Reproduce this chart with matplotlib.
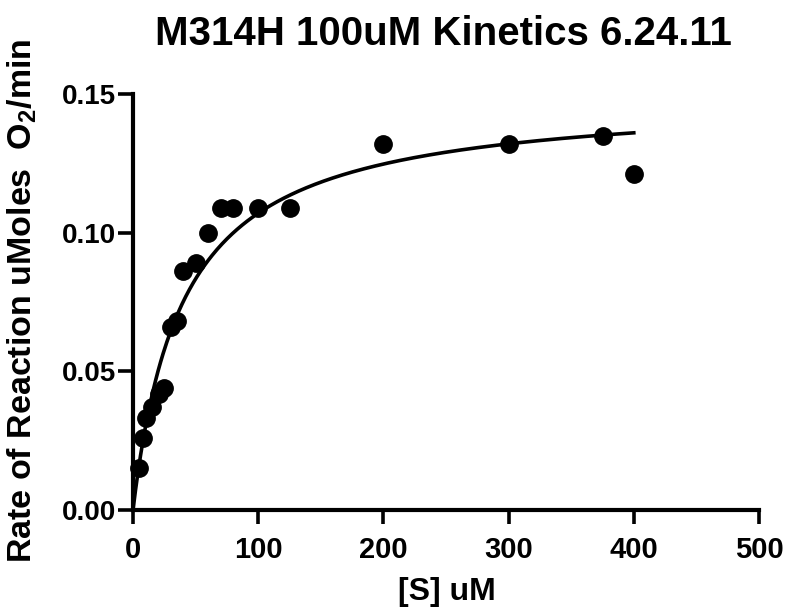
import numpy as np
import matplotlib
matplotlib.use("Agg")
import matplotlib.pyplot as plt

# Data
substrate_uM = [5, 8, 10, 15, 21, 25, 30, 35, 40, 50, 60, 70, 80, 100, 125, 200, 300, 375, 400]
rate = [0.015, 0.026, 0.033, 0.037, 0.042, 0.044, 0.066, 0.068, 0.086, 0.089, 0.100, 0.109,
        0.109, 0.109, 0.109, 0.132, 0.132, 0.135, 0.121]
# Michaelis-Menten fit parameters
vmax = 0.1495
km = 39.7
fit_range = [0, 400]

x_ticks = [0, 100, 200, 300, 400, 500]
y_ticks = [0.00, 0.05, 0.10, 0.15]

plt.rcParams['font.family'] = ['Liberation Sans', 'DejaVu Sans']
plt.rcParams['font.weight'] = 'bold'
plt.rcParams['mathtext.default'] = 'regular'

W, H = 788, 609
fig = plt.figure(figsize=(W / 100, H / 100), dpi=100)
ax = fig.add_axes([133 / W, 1 - 510 / H, (759 - 133) / W, (510 - 94) / H])

xs = np.linspace(fit_range[0], fit_range[1], 400)
ax.plot(xs, vmax * xs / (km + xs), color='black', lw=2.6, zorder=2)
ax.plot(substrate_uM, rate, 'o', color='black', ms=12.5, zorder=3, clip_on=False)

ax.set_xlim(0, 500)
ax.set_ylim(0, 0.15)
ax.set_xticks(x_ticks)
ax.set_yticks(y_ticks)
ax.set_xticklabels([str(v) for v in x_ticks])
ax.set_yticklabels([f"{v:.2f}" for v in y_ticks])
for s in ['top', 'right']:
    ax.spines[s].set_visible(False)
for s in ['left', 'bottom']:
    ax.spines[s].set_linewidth(3.0)
    ax.spines[s].set_capstyle('projecting')
ax.tick_params(axis='x', width=2.6, length=10, labelsize=21, pad=9)
ax.tick_params(axis='y', width=2.6, length=11, labelsize=20, pad=1)
for lab in ax.get_xticklabels() + ax.get_yticklabels():
    lab.set_fontweight('bold')

fig.text(447 / W, 1 - 600 / H, '[S] uM', fontsize=23, fontweight='bold',
         ha='center', va='baseline')
fig.text(22 / W, 1 - 301 / H, 'Rate of Reaction uMoles  O$_2$/min', fontsize=24.5,
         fontweight='bold', rotation=90, ha='center', va='center')
fig.text(443 / W, 1 - 45 / H, 'M314H 100uM Kinetics 6.24.11', fontsize=29,
         fontweight='bold', ha='center', va='baseline')

fig.savefig('out.png', dpi=100)
